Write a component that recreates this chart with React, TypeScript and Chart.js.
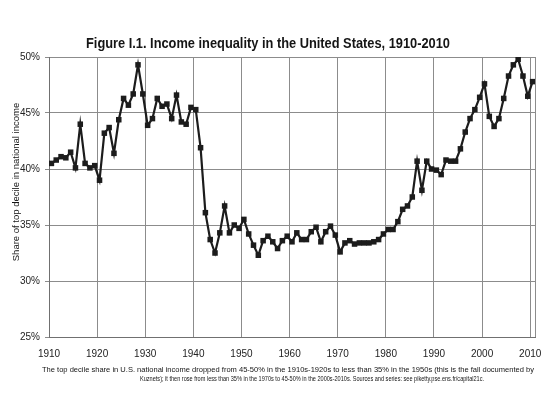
import React, { useEffect, useRef } from 'react';
import Chart from 'chart.js/auto';

const years: number[] = [];
for (let y = 1910; y <= 2010; y++) years.push(y);

// top decile share in national income, % (1910-2010)
const topDecileShare = [
  40.5, 40.8, 41.1, 41.0, 41.5, 40.1, 44.0, 40.5, 40.1, 40.3,
  39.0, 43.2, 43.7, 41.4, 44.4, 46.3, 45.7, 46.7, 49.3, 46.7,
  43.9, 44.5, 46.3, 45.6, 45.8, 44.5, 46.6, 44.2, 44.0, 45.5,
  45.3, 41.9, 36.1, 33.7, 32.5, 34.3, 36.7, 34.3, 35.0, 34.7,
  35.5, 34.2, 33.2, 32.3, 33.6, 34.0, 33.5, 32.9, 33.6, 34.0,
  33.5, 34.3, 33.7, 33.7, 34.4, 34.8, 33.5, 34.4, 34.9, 34.1,
  32.6, 33.4, 33.6, 33.3, 33.4, 33.4, 33.4, 33.5, 33.7, 34.2,
  34.6, 34.6, 35.3, 36.4, 36.7, 37.5, 40.7, 38.1, 40.7, 40.0,
  39.9, 39.5, 40.8, 40.7, 40.7, 41.8, 43.3, 44.5, 45.3, 46.4,
  47.6, 44.7, 43.8, 44.5, 46.3, 48.3, 49.3, 49.8, 48.3, 46.5,
  47.8,
];

const xTicks = [1910, 1920, 1930, 1940, 1950, 1960, 1970, 1980, 1990, 2000, 2010];
const xMin = 1910;
const xMax = 2011;
const yTicks = [25, 30, 35, 40, 45, 50];

const titleText = 'Figure I.1. Income inequality in the United States, 1910-2010';
const yTitle = 'Share of top decile in national income';
const captionLines = [
  'The top decile share in U.S. national income dropped from 45-50% in the 1910s-1920s to less than 35% in the 1950s (this is the fall documented by',
  'Kuznets); it then rose from less than 35% in the 1970s to 45-50% in the 2000s-2010s. Sources and series: see piketty.pse.ens.fr/capital21c.',
];

const FONT = '"Liberation Sans", Arial, sans-serif';

const figureText = {
  id: 'figureText',
  afterDraw(chart: Chart) {
    const { ctx } = chart;
    ctx.save();
    ctx.fillStyle = '#151515';
    ctx.textAlign = 'center';
    ctx.textBaseline = 'middle';
    ctx.font = `bold 14px ${FONT}`;
    ctx.fillText(titleText, 268, 44, 364);
    ctx.font = `7.8px ${FONT}`;
    ctx.fillText(captionLines[0], 288, 369.5, 492);
    ctx.fillText(captionLines[1], 312, 379, 344);
    ctx.translate(16, 182);
    ctx.rotate(-Math.PI / 2);
    ctx.font = `9.5px ${FONT}`;
    ctx.fillText(yTitle, 0, 0);
    ctx.restore();
  },
};

const App: React.FC = () => {
  const canvasRef = useRef<HTMLCanvasElement>(null);
  const chartRef = useRef<Chart | null>(null);

  useEffect(() => {
    if (!canvasRef.current) return;
    if (chartRef.current) chartRef.current.destroy();

    chartRef.current = new Chart(canvasRef.current, {
      type: 'line',
      data: {
        datasets: [
          {
            label: 'Top decile share',
            // plotted in the middle of each year, as in the original
            data: years.map((yr, i) => ({ x: yr + 0.5, y: topDecileShare[i] })),
            borderColor: '#1c1c1c',
            borderWidth: 2.2,
            pointStyle: 'rect',
            pointRadius: 3.9,
            pointBackgroundColor: '#1c1c1c',
            pointBorderWidth: 0,
            tension: 0,
          },
        ],
      },
      plugins: [figureText],
      options: {
        responsive: false,
        animation: false,
        devicePixelRatio: 1,
        layout: { padding: { left: 0, right: 15, top: 57, bottom: 46 } },
        plugins: {
          legend: { display: false },
          tooltip: { enabled: false },
        },
        scales: {
          x: {
            type: 'linear',
            min: xMin,
            max: xMax,
            afterBuildTicks: (axis: any) => {
              axis.ticks = [...xTicks, xMax].map((v) => ({ value: v }));
            },
            afterFit: (axis: any) => {
              axis.height = 30;
            },
            grid: { color: '#8c8c8c', lineWidth: 1, drawTicks: false },
            border: { color: '#707070' },
            ticks: {
              autoSkip: false,
              maxRotation: 0,
              padding: 11,
              color: '#222',
              font: { family: FONT, size: 10 },
              callback: (v: any) => (v === xMax ? '' : String(v)),
            },
          },
          y: {
            min: 25,
            max: 50,
            afterBuildTicks: (axis: any) => {
              axis.ticks = yTicks.map((v) => ({ value: v }));
            },
            afterFit: (axis: any) => {
              axis.width = 49;
            },
            grid: { color: '#8c8c8c', lineWidth: 1, tickLength: 4 },
            border: { color: '#707070' },
            ticks: {
              padding: 5,
              color: '#222',
              font: { family: FONT, size: 10 },
              callback: (v: any) => v + '%',
            },
          },
        },
      },
    });

    return () => {
      if (chartRef.current) {
        chartRef.current.destroy();
        chartRef.current = null;
      }
    };
  }, []);

  return (
    <div style={{ position: 'absolute', left: 0, top: 0, width: 550, height: 413, background: '#fff' }}>
      <canvas ref={canvasRef} width={550} height={413}></canvas>
    </div>
  );
};

export default App;
